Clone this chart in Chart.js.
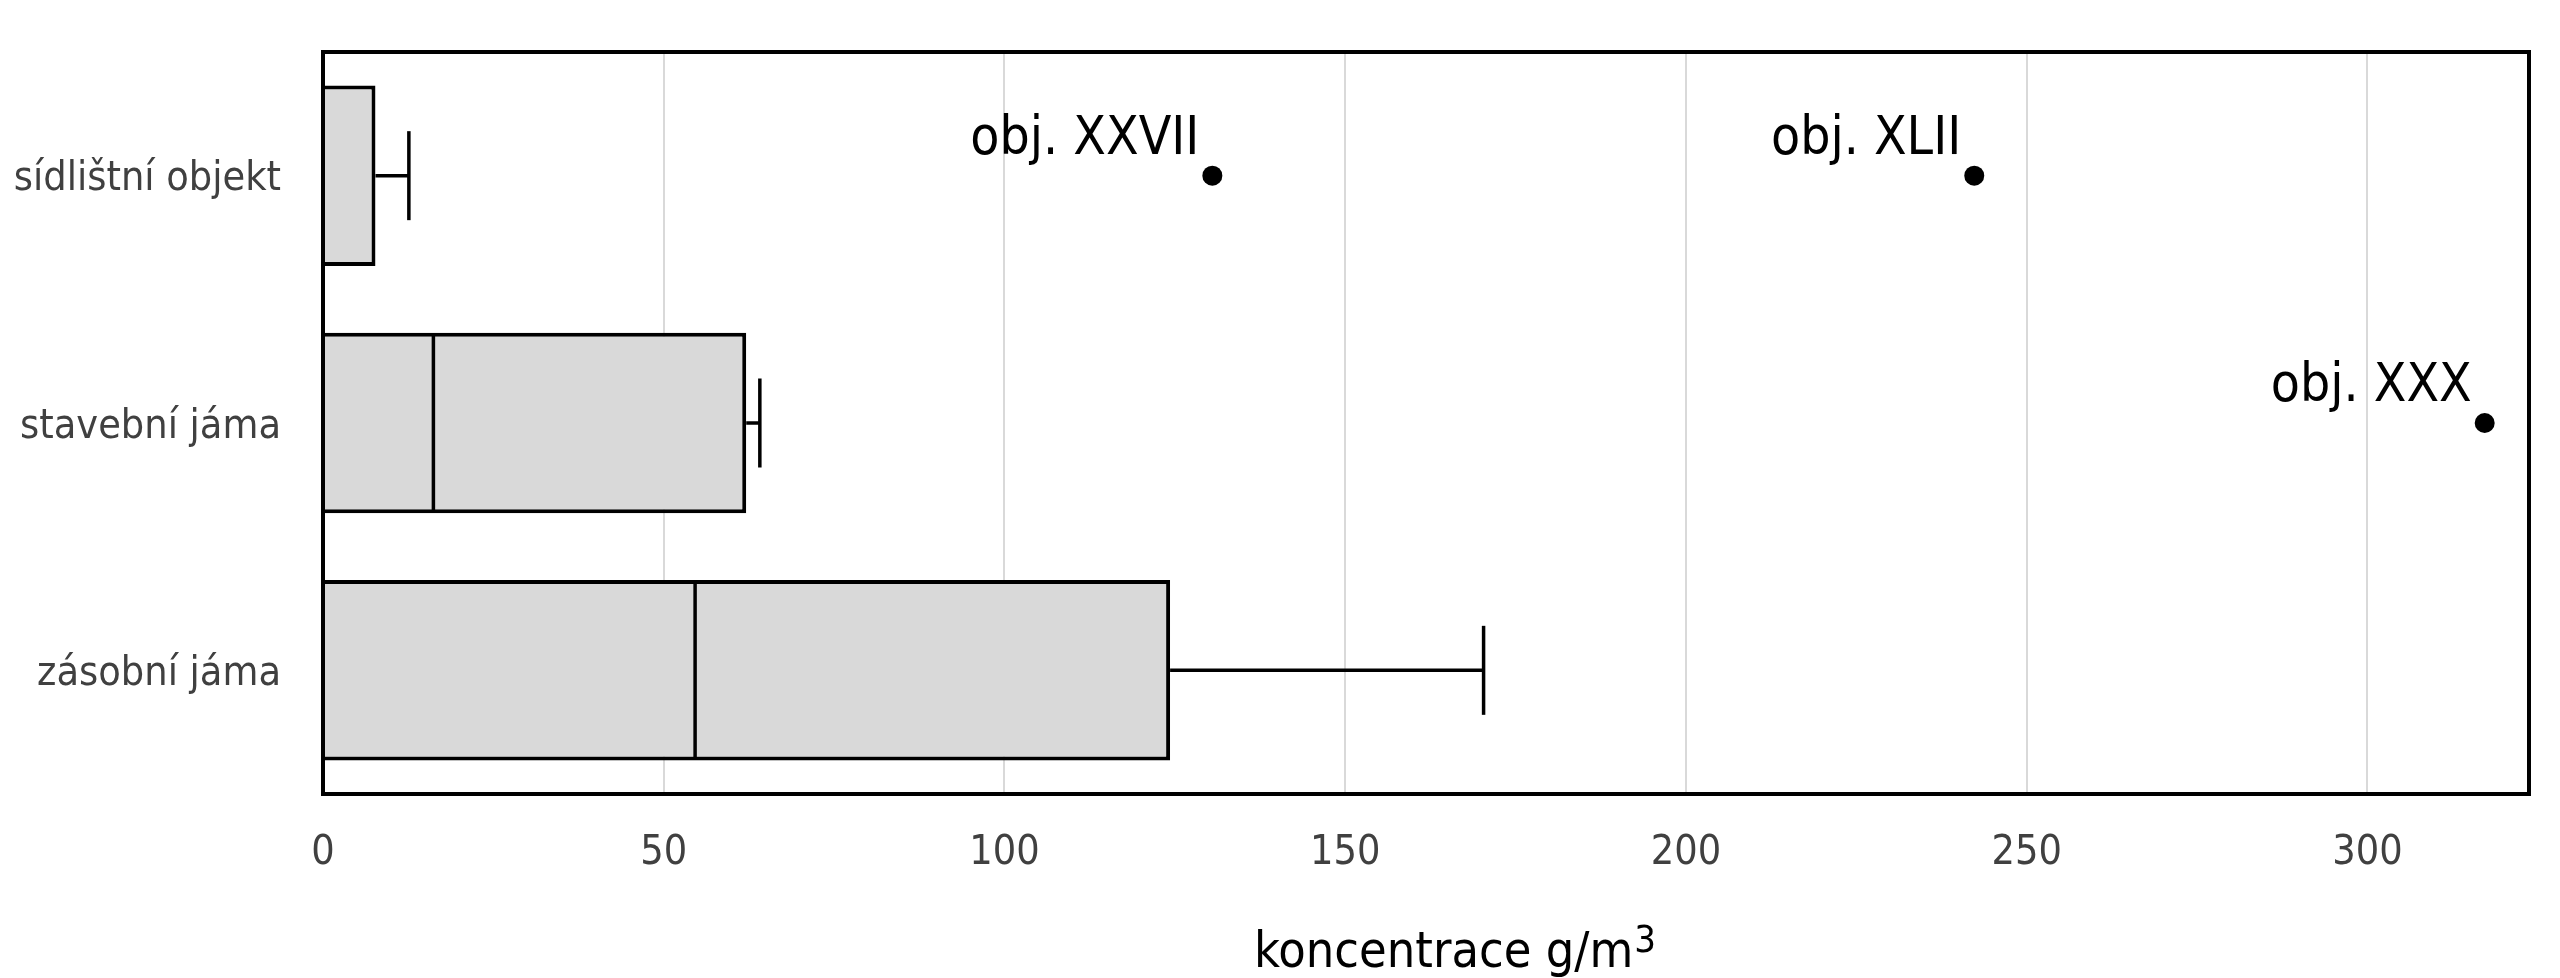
<!DOCTYPE html>
<html>
<head>
<meta charset="utf-8">
<script src="https://cdn.jsdelivr.net/npm/chart.js@4/dist/chart.umd.min.js"></script>
<style>
  html, body { margin: 0; padding: 0; background: #ffffff; }
  #wrap { width: 2560px; height: 978px; }
</style>
</head>
<body>
<div id="wrap"><canvas id="c" width="2560" height="978"></canvas></div>
<script>
// ---- data ----
const categories = ['sídlištní objekt', 'stavební jáma', 'zásobní jáma'];
const boxMin    = [0, 0, 0];
const boxQ1     = [0, 0, 0];
const boxMedian = [0, 16.2, 54.6];
const boxQ3     = [7.7, 62.1, 124.3];
const boxMax    = [12.6, 64.1, 170.3];
const outlierLabels   = ['obj. XXVII', 'obj. XLII', 'obj. XXX'];
const outlierCategory = ['sídlištní objekt', 'sídlištní objekt', 'stavební jáma'];
const outlierValues   = [130.5, 242.3, 317.2];
const xTicks = [0, 50, 100, 150, 200, 250, 300];
const xMax = 323.7;
const axisTitle = 'koncentrace g/m';
const axisTitleSup = '3';

const FAMILY = "'DejaVu Sans Condensed', 'DejaVu Sans', sans-serif";

const boxExtras = {
  id: 'boxExtras',
  afterDatasetDraw(chart, args) {
    if (args.index !== 0) return;
    const ctx = chart.ctx;
    const xs = chart.scales.x;
    const meta = chart.getDatasetMeta(0);
    ctx.save();
    ctx.strokeStyle = '#000000';
    ctx.lineWidth = 3.5;
    ctx.lineCap = 'butt';
    meta.data.forEach((bar, i) => {
      const y = bar.y;
      const h = bar.height;
      const top = y - h / 2 + 2, bot = y + h / 2 - 2;
      // median
      const xm = xs.getPixelForValue(boxMedian[i]);
      ctx.beginPath(); ctx.moveTo(xm, top); ctx.lineTo(xm, bot); ctx.stroke();
      // upper whisker
      const xq3 = xs.getPixelForValue(boxQ3[i]);
      const xmax = xs.getPixelForValue(boxMax[i]);
      ctx.beginPath(); ctx.moveTo(xq3, y); ctx.lineTo(xmax, y); ctx.stroke();
      ctx.beginPath(); ctx.moveTo(xmax, y - 44.5); ctx.lineTo(xmax, y + 44.5); ctx.stroke();
      // lower whisker
      const xq1 = xs.getPixelForValue(boxQ1[i]);
      const xmin = xs.getPixelForValue(boxMin[i]);
      if (xq1 - xmin > 0.5) {
        ctx.beginPath(); ctx.moveTo(xmin, y); ctx.lineTo(xq1, y); ctx.stroke();
        ctx.beginPath(); ctx.moveTo(xmin, y - 44.5); ctx.lineTo(xmin, y + 44.5); ctx.stroke();
      }
    });
    ctx.restore();
  },
  afterDatasetsDraw(chart) {
    const ctx = chart.ctx;
    const a = chart.chartArea;
    ctx.save();
    // plot frame
    ctx.strokeStyle = '#000000';
    ctx.lineWidth = 4;
    ctx.strokeRect(a.left, a.top, a.right - a.left, a.bottom - a.top);
    // outlier labels
    const meta = chart.getDatasetMeta(1);
    ctx.fillStyle = '#000000';
    ctx.font = '53px ' + FAMILY;
    ctx.textAlign = 'right';
    ctx.textBaseline = 'alphabetic';
    meta.data.forEach((pt, i) => {
      ctx.fillText(outlierLabels[i], pt.x - 13, pt.y - 22);
    });
    // axis title with superscript
    ctx.textAlign = 'left';
    ctx.font = '50px ' + FAMILY;
    const w = ctx.measureText(axisTitle).width;
    ctx.font = '38px ' + FAMILY;
    const ws = ctx.measureText(axisTitleSup).width;
    const cx = (a.left + a.right) / 2 + 29;
    const x0 = cx - (w + ws + 1) / 2;
    const base = a.bottom + 173;
    ctx.font = '50px ' + FAMILY;
    ctx.fillText(axisTitle, x0, base);
    ctx.font = '38px ' + FAMILY;
    ctx.fillText(axisTitleSup, x0 + w + 1, base - 15);
    ctx.restore();
  }
};

new Chart(document.getElementById('c'), {
  type: 'bar',
  data: {
    labels: categories,
    datasets: [
      {
        label: 'box',
        data: categories.map((c, i) => [boxQ1[i], boxQ3[i]]),
        backgroundColor: '#d9d9d9',
        borderColor: '#000000',
        borderWidth: 4,
        borderSkipped: 'start',
        categoryPercentage: 1.0,
        barPercentage: 0.73
      },
      {
        type: 'scatter',
        label: 'outliers',
        data: outlierValues.map((v, i) => ({ x: v, y: outlierCategory[i] })),
        backgroundColor: '#000000',
        borderColor: '#000000',
        borderWidth: 0,
        pointRadius: 10,
        pointHoverRadius: 10,
        showLine: false
      }
    ]
  },
  options: {
    indexAxis: 'y',
    responsive: false,
    animation: false,
    devicePixelRatio: 1,
    layout: { padding: { top: 52, right: 31, left: 0, bottom: 0 } },
    plugins: {
      legend: { display: false },
      tooltip: { enabled: false },
      title: { display: false }
    },
    scales: {
      x: {
        type: 'linear',
        position: 'bottom',
        min: 0,
        max: xMax,
        afterBuildTicks: (axis) => { axis.ticks = xTicks.map(v => ({ value: v })); },
        afterFit: (s) => { s.height = 184; },
        grid: { color: '#d9d9d9', lineWidth: 2, drawTicks: false },
        border: { display: false },
        ticks: {
          font: { family: FAMILY, size: 41 },
          color: '#404040',
          padding: 35,
          maxRotation: 0
        }
      },
      y: {
        type: 'category',
        offset: true,
        afterFit: (s) => { s.width = 323; s.paddingTop = 0; s.paddingBottom = 0; },
        grid: { display: false, drawTicks: false },
        border: { display: false },
        ticks: {
          font: { family: FAMILY, size: 41 },
          color: '#404040',
          padding: 42,
          labelOffset: 4
        }
      }
    }
  },
  plugins: [boxExtras]
});
</script>
</body>
</html>
